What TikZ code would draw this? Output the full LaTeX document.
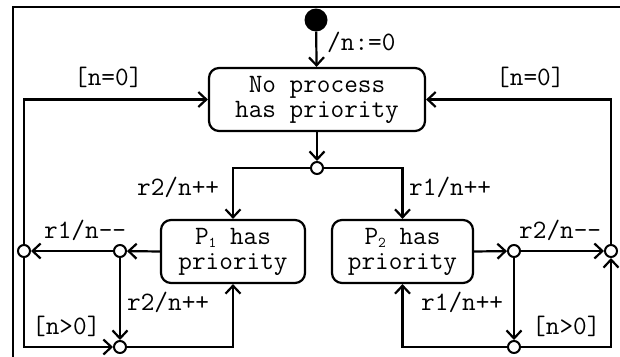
\documentclass[tikz,border=0pt]{standalone}
\usepackage{fontspec}
\usetikzlibrary{arrows.meta}
\tikzset{
  every node/.style={font=\ttfamily\fontsize{26.5}{25}\selectfont},
  conn/.style={line width=2.2pt, -{Straight Barb[length=8pt,width=15pt,line width=2.2pt]}},
  statebox/.style={draw, line width=2.2pt, rounded corners=10pt, align=center, inner sep=0pt},
  junc/.style={circle, draw, fill=white, line width=2pt, minimum size=12pt, inner sep=0pt},
  lbl/.style={inner sep=0pt},
}
\begin{document}
\begin{tikzpicture}[x=1pt,y=-1pt]
\useasboundingbox (0,0) rectangle (620,356);
\draw[line width=1.4pt] (13,360) -- (13,7) -- (625,7);
\node[circle, fill=black, minimum size=23pt, inner sep=0pt] (init) at (316,20) {};
\node[statebox, minimum width=216pt, minimum height=63pt] (top) at (317,99.5) {No process\\has priority};
\node[statebox, minimum width=144pt, minimum height=63pt] (p1) at (233,251.5) {P\raisebox{-3pt}{\fontsize{15}{15}\selectfont 1} has\\priority};
\node[statebox, minimum width=141pt, minimum height=63pt] (p2) at (402.5,251.5) {P\raisebox{-3pt}{\fontsize{15}{15}\selectfont 2} has\\priority};
\node[junc] (j0) at (317,168) {};
\node[junc] (j1) at (120,251) {};
\node[junc] (j2) at (24,251) {};
\node[junc] (j3) at (120,347) {};
\node[junc] (j4) at (514,251) {};
\node[junc] (j5) at (611,251) {};
\node[junc] (j6) at (514,347) {};
% connectors
\draw[conn] (init) -- (top);
\draw[conn] (top) -- (j0);
\draw[conn] (j0) -| (p1.north);
\draw[conn] (j0) -| (p2.north);
\draw[conn] (p1.west) -- (j1);
\draw[conn] (j1) -- (j2);
\draw[conn] (j1) -- (j3);
\draw[conn] (j3) -| (p1.south);
\draw[conn] (j2.north) |- (top.west);
\draw[conn] (j2.south) |- (j3.west);
\draw[conn] (p2.east) -- (j4);
\draw[conn] (j4) -- (j5);
\draw[conn] (j4) -- (j6);
\draw[conn] (j6) -| (p2.south);
\draw[conn] (j6) -| (j5.south);
\draw[conn] (j5.north) |- (top.east);
% labels
\node[lbl, anchor=base west] (l0) at (327,50) {/n:=0};
\node[lbl, anchor=base west] (l1) at (74,85) {[n=0]};
\node[lbl, anchor=base west] (l2) at (496,85) {[n=0]};
\node[lbl, anchor=base west] (l3) at (137,195) {r2/n++};
\node[lbl, anchor=base west] (l4) at (409,195) {r1/n++};
\node[lbl, anchor=base west] (l5) at (44,238) {r1/n--};
\node[lbl, anchor=base west] (l6) at (519,238) {r2/n--};
\node[lbl, anchor=base west] (l7) at (127,310) {r2/n++};
\node[lbl, anchor=base west] (l8) at (421,310) {r1/n++};
\node[lbl, anchor=base west] (l9) at (32,334) {[n>0]};
\node[lbl, anchor=base west] (l10) at (532,334) {[n>0]};
\end{tikzpicture}
\end{document}
